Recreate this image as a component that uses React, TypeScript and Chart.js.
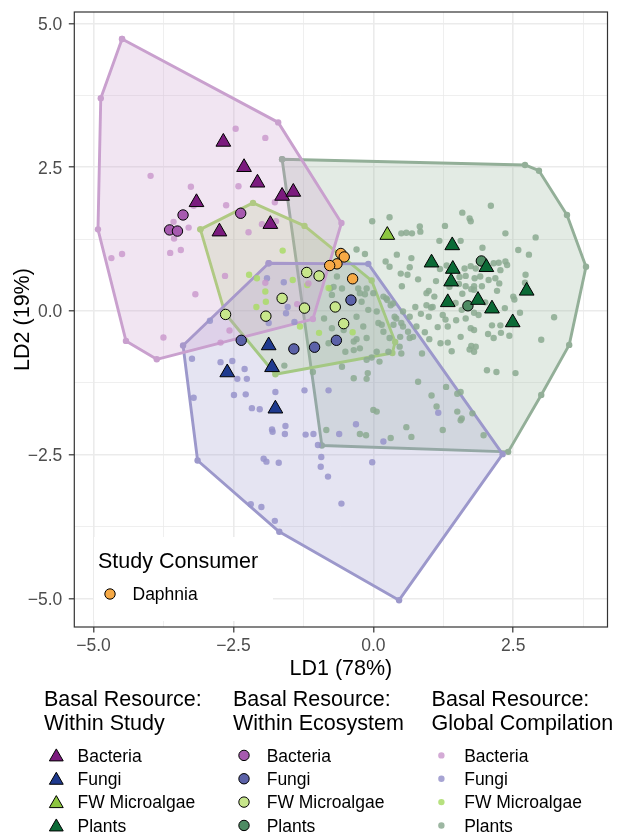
import React, { useEffect, useRef } from "react";
import { Chart, registerables } from "chart.js";

Chart.register(...registerables);

type Pt = [number, number];

// ---------- axes ----------
const xMajorTicks = [-5, -2.5, 0, 2.5];
const xMinorTicks = [-3.75, -1.25, 1.25, 3.75];
const yMajorTicks = [-5, -2.5, 0, 2.5, 5];
const yMinorTicks = [-3.75, -1.25, 1.25, 3.75];
const xLimits = [-5.343, 4.184];
const yLimits = [-5.496, 5.2];
const xTitle = "LD1 (78%)";
const yTitle = "LD2 (19%)";

// ---------- groups ----------
const groupNames = ["Bacteria", "Fungi", "FW Microalgae", "Plants"];
const consumerName = "Daphnia";

// ---------- hulls (global compilation) ----------
const hullBacteria: Pt[] = [[-4.49, 4.73], [-4.87, 3.70], [-4.92, 1.42], [-4.42, -0.52], [-3.87, -0.84], [-1.08, -0.14], [-0.57, 1.53], [-1.70, 3.28], [-4.49, 4.73]];
const hullFungi: Pt[] = [[-1.87, 0.83], [-3.40, -0.60], [-3.14, -2.60], [-1.68, -3.84], [0.46, -5.03], [2.31, -2.49], [-0.09, 0.82], [-1.87, 0.83]];
const hullFW: Pt[] = [[-3.09, 1.42], [-2.15, 1.88], [-1.23, 1.48], [-0.03, 0.53], [0.39, -0.54], [0.34, -0.73], [-1.75, -1.10], [-2.65, -0.04], [-3.09, 1.42]];
const hullPlants: Pt[] = [[-1.63, 2.64], [2.71, 2.54], [2.96, 2.44], [3.46, 1.67], [3.80, 0.77], [3.50, -0.59], [3.00, -1.46], [2.41, -2.45], [-0.92, -2.34], [-1.63, 2.64]];

// ---------- global compilation points ----------
const globalBacteria: Pt[] = [[-2.46, 3.17], [-1.93, 3.01], [-3.98, 2.35], [-3.26, 2.16], [-2.41, 2.17], [-2.63, 1.84], [-1.76, 1.89], [-3.21, 1.83], [-3.57, 1.55], [-3.30, 1.45], [-3.56, 1.26], [-3.63, 1.01], [-3.44, 1.06], [-4.49, 0.99], [-4.68, 0.92], [-1.99, 1.51], [-1.74, 1.56], [-2.23, 1.37], [-2.65, 0.61], [-3.18, 0.29], [-3.75, -0.46], [-2.57, -0.34], [-2.73, -0.55], [-1.93, 0.49], [-1.16, 0.48], [-1.36, 0.12]];
const globalFungi: Pt[] = [[-2.92, -0.17], [-3.24, -0.83], [-2.73, -0.89], [-2.52, -0.87], [-2.30, -1.01], [-2.43, -1.18], [-2.26, -1.18], [-3.21, -1.51], [-2.49, -1.46], [-2.28, -1.45], [-2.17, -1.69], [-2.03, -1.71], [-1.75, -1.41], [-1.81, -2.06], [-1.80, -2.10], [-1.57, -2.00], [-1.58, -2.14], [-1.23, -1.38], [-1.21, -2.15], [-1.07, -2.14], [-0.99, -2.33], [-0.93, -2.54], [-0.94, -2.71], [-0.81, -2.88], [-0.57, -3.35], [-1.96, -2.57], [-1.91, -2.62], [-1.69, -2.64], [-2.19, -3.36], [-2.00, -3.41], [-1.76, -3.65], [-0.80, -1.38], [-0.61, -2.14], [-0.31, -1.97], [0.18, -2.27], [-0.02, -2.63], [1.16, -1.77], [-1.60, 0.50], [-1.90, 0.57], [-1.87, -0.21], [-1.56, -0.04], [-1.41, -0.19], [-1.53, 0.07]];
const globalFW: Pt[] = [[-1.62, 1.05], [-2.22, 0.63], [-2.08, 0.57], [-1.93, 0.34], [-1.92, 0.16], [-2.09, 0.07], [-1.31, -0.27], [-1.44, 0.54], [-1.18, 0.45], [-0.80, 0.40], [-0.97, -0.38], [-0.37, -0.37]];
const globalPlants: Pt[] = [[2.10, 1.83], [1.59, 1.71], [1.72, 1.61], [1.74, 1.56], [0.29, 1.63], [-0.02, 1.56], [0.83, 1.47], [0.84, 1.38], [0.50, 1.35], [0.59, 1.36], [0.69, 1.35], [2.36, 1.35], [2.90, 1.28], [1.18, 1.22], [1.56, 1.22], [2.59, 1.06], [2.78, 0.98], [0.68, 0.92], [0.22, 0.86], [2.15, 0.83], [2.24, 0.84], [2.36, 0.86], [2.39, 0.80], [2.27, 0.71], [0.65, 0.76], [1.19, 0.73], [1.63, 0.74], [1.74, 0.78], [1.83, 0.74], [0.49, 0.65], [0.61, 0.63], [1.54, 0.59], [1.65, 0.61], [1.81, 0.57], [1.91, 0.60], [2.06, 0.54], [2.18, 0.57], [2.72, 0.63], [1.53, 0.47], [1.65, 0.43], [1.80, 0.43], [1.94, 0.43], [2.25, 0.48], [0.51, 0.43], [1.80, 0.37], [0.95, 0.31], [0.99, 0.35], [1.09, 0.25], [1.59, 0.30], [2.50, 0.25], [2.52, 0.20], [2.21, 0.35], [0.75, 0.07], [0.95, 0.10], [1.03, 0.06], [0.85, -0.05], [1.58, 0.02], [1.80, -0.03], [1.88, -0.07], [1.65, -0.13], [2.62, -0.03], [3.23, -0.11], [1.29, -0.15], [0.99, -0.10], [1.15, -0.28], [1.33, -0.27], [1.48, -0.16], [1.56, -0.45], [1.74, -0.30], [1.80, -0.33], [2.12, -0.25], [2.27, -0.25], [2.28, -0.38], [2.43, -0.43], [2.15, -0.47], [0.92, -0.37], [1.00, -0.49], [1.20, -0.56], [1.33, -0.55], [1.75, -0.61], [1.72, -0.67], [1.83, -0.62], [1.80, -0.71], [0.47, -0.62], [0.65, -0.47], [-0.30, 1.07], [-0.15, 0.99], [-0.77, 0.39], [-0.74, 0.28], [-0.27, 0.39], [-0.15, 0.29], [0.00, 0.31], [-0.21, 0.16], [-0.09, 0.02], [0.06, -0.01], [0.23, 0.22], [0.35, 0.13], [0.38, -0.10], [0.65, -0.10], [0.36, -0.24], [0.53, -0.27], [0.62, -0.36], [0.71, -0.45], [0.18, -0.36], [0.29, -0.47], [-0.12, -0.47], [-0.30, -0.49], [-0.53, -0.33], [-0.50, -0.71], [-0.35, -0.68], [-0.12, -0.85], [0.06, -0.71], [0.50, -0.74], [-0.56, -0.97], [-0.35, -1.17], [-0.12, -1.18], [0.00, -1.72], [0.06, -1.75], [0.80, -1.23], [1.04, -1.47], [1.30, -1.32], [1.56, -1.41], [1.50, -1.44], [1.13, -1.66], [0.59, -2.02], [0.68, -2.19], [1.24, -2.07], [1.97, -2.16], [3.00, -0.50], [2.03, -1.03], [2.20, -1.06], [2.54, -1.08], [-0.13, -2.16], [-0.24, -2.14], [0.87, -0.74], [1.58, -1.87], [0.31, -2.21], [0.41, -0.13], [0.53, -0.01], [0.18, 0.25], [0.25, 0.19], [0.31, 0.10], [0.15, -0.24], [0.11, -0.88], [-0.65, 0.60], [-0.24, 0.31], [-0.12, 0.39], [-0.30, -0.10], [-0.18, -0.27], [0.09, -0.21], [-0.35, -0.53], [-0.24, -0.65], [-1.08, -1.06], [-0.10, -1.08], [-0.71, 0.42], [-0.56, 0.39], [-0.74, -0.30], [-0.03, -0.81], [-0.84, -2.07], [-0.88, -0.13], [-1.59, -0.95], [-0.80, -0.56], [1.31, 0.79], [1.47, 0.14], [1.75, 0.38], [2.71, 0.49], [0.48, -0.45], [0.29, 0.77], [0.50, -0.21], [0.77, -0.27], [1.06, 0.07], [1.24, -0.07], [0.27, -0.71], [1.50, -1.75], [1.56, -1.90], [1.77, -1.78], [1.12, 0.52], [1.36, 0.42], [2.00, 0.15], [1.95, 1.10], [0.80, 0.55], [1.40, -0.70], [2.35, 0.05], [0.42, 0.98], [1.28, 1.48], [2.05, -0.40]];

// ---------- within ecosystem (circles) ----------
const ecoBacteria: Pt[] = [[-3.40, 1.67], [-3.64, 1.41], [-3.50, 1.39], [-2.37, 1.70]];
const ecoFungi: Pt[] = [[-2.36, -0.51], [-1.42, -0.66], [-1.05, -0.63], [-0.66, -0.51], [-0.40, 0.19]];
const ecoFW: Pt[] = [[-1.19, 0.67], [-0.97, 0.61], [-1.63, 0.22], [-1.23, 0.05], [-0.68, 0.07], [-0.53, -0.22], [-1.92, -0.09], [-2.64, -0.06]];
const ecoPlants: Pt[] = [[1.93, 0.87], [1.69, 0.09]];

// ---------- within study (triangles) ----------
const studyBacteria: Pt[] = [[-2.68, 2.94], [-2.31, 2.50], [-2.07, 2.23], [-3.16, 1.89], [-1.63, 2.00], [-1.43, 2.07], [-1.84, 1.51], [-2.75, 1.38]];
const studyFungi: Pt[] = [[-2.61, -1.07], [-1.87, -0.60], [-1.81, -0.98], [-1.75, -1.70]];
const studyFW: Pt[] = [[0.25, 1.32]];
const studyPlants: Pt[] = [[1.41, 1.14], [1.04, 0.84], [1.42, 0.73], [1.39, 0.51], [2.02, 0.76], [2.74, 0.35], [1.33, 0.15], [1.87, 0.19], [2.12, 0.04], [2.49, -0.20]];

// ---------- study consumer ----------
const daphnia: Pt[] = [[-0.58, 1.00], [-0.52, 0.94], [-0.65, 0.82], [-0.78, 0.79], [-0.37, 0.56]];

// ---------- colours ----------
const hullLineColors = ["rgb(201,160,206)", "rgb(156,152,203)", "rgb(168,218,106)", "rgb(147,175,152)"];
const hullFillColors = ["rgba(200,155,205,0.26)", "rgba(156,150,203,0.26)", "rgba(170,218,110,0.22)", "rgba(147,178,152,0.26)"];
const globalColors = ["rgba(201,150,204,0.8)", "rgba(152,148,203,0.85)", "rgba(170,220,105,0.85)", "rgba(140,170,146,0.85)"];
const ecoColors = ["#A65AAF", "#5C62A8", "#C7E68B", "#4E8B63"];
const studyColors = ["#7B1B7E", "#1F3A8E", "#8DC640", "#0B6A36"];
const daphniaColor = "#F6A945";

const FONT = '"Liberation Sans", Arial, Helvetica, sans-serif';

const toXY = (a: Pt[]) => a.map(([x, y]) => ({ x, y }));

function drawTri(ctx: CanvasRenderingContext2D, x: number, y: number, r: number, fill: string) {
  ctx.beginPath();
  for (let i = 0; i < 3; i++) {
    const a = (i * 2 * Math.PI) / 3;
    const px = x + Math.sin(a) * r;
    const py = y - Math.cos(a) * r;
    if (i === 0) ctx.moveTo(px, py);
    else ctx.lineTo(px, py);
  }
  ctx.closePath();
  ctx.fillStyle = fill;
  ctx.fill();
  ctx.lineWidth = 1;
  ctx.strokeStyle = "#000";
  ctx.stroke();
}

function drawCirc(ctx: CanvasRenderingContext2D, x: number, y: number, r: number, fill: string, stroke: boolean) {
  ctx.beginPath();
  ctx.arc(x, y, r, 0, Math.PI * 2);
  ctx.fillStyle = fill;
  ctx.fill();
  if (stroke) {
    ctx.lineWidth = 1;
    ctx.strokeStyle = "#000";
    ctx.stroke();
  }
}

const fmtTick = (v: number) => (v < 0 ? "\u2212" : "") + Math.abs(v).toFixed(1);

const decorPlugin = {
  id: "decor",
  afterDatasetsDraw(chart: any) {
    const ctx: CanvasRenderingContext2D = chart.ctx;
    const a = chart.chartArea;
    ctx.save();
    // inner legend (Study Consumer)
    ctx.fillStyle = "#ffffff";
    ctx.fillRect(94, 537, 179, 84);
    ctx.fillStyle = "#000";
    ctx.font = `21.5px ${FONT}`;
    ctx.textAlign = "left";
    ctx.textBaseline = "alphabetic";
    ctx.fillText("Study Consumer", 98, 567.5);
    drawCirc(ctx, 110, 594, 5.2, daphniaColor, true);
    ctx.fillStyle = "#000";
    ctx.font = `17.5px ${FONT}`;
    ctx.fillText(consumerName, 132.5, 600.3);
    // panel border
    ctx.strokeStyle = "#333333";
    ctx.lineWidth = 1.2;
    ctx.strokeRect(a.left, a.top, a.right - a.left, a.bottom - a.top);
    ctx.restore();
  },
  afterDraw(chart: any) {
    const ctx: CanvasRenderingContext2D = chart.ctx;
    const a = chart.chartArea;
    const xs = chart.scales.x;
    const ys = chart.scales.y;
    ctx.save();
    // tick labels
    ctx.fillStyle = "#4D4D4D";
    ctx.font = `17.5px ${FONT}`;
    ctx.textBaseline = "alphabetic";
    ctx.textAlign = "center";
    xMajorTicks.forEach((v) => ctx.fillText(fmtTick(v), xs.getPixelForValue(v), a.bottom + 23.5));
    ctx.textAlign = "right";
    yMajorTicks.forEach((v) => ctx.fillText(fmtTick(v), a.left - 12, ys.getPixelForValue(v) + 6.3));
    // axis titles
    ctx.fillStyle = "#000";
    ctx.font = `21.5px ${FONT}`;
    ctx.textAlign = "center";
    ctx.fillText(xTitle, (a.left + a.right) / 2, a.bottom + 48);
    ctx.save();
    ctx.translate(29, (a.top + a.bottom) / 2);
    ctx.rotate(-Math.PI / 2);
    ctx.fillText(yTitle, 0, 0);
    ctx.restore();
    // bottom legends
    const cols = [
      { x: 44, keyX: 56.3, labelX: 77.5, titles: ["Basal Resource:", "Within Study"], kind: "tri", colors: studyColors },
      { x: 233, keyX: 244, labelX: 266.7, titles: ["Basal Resource:", "Within Ecosystem"], kind: "circ", colors: ecoColors },
      { x: 431.6, keyX: 441.4, labelX: 464.2, titles: ["Basal Resource:", "Global Compilation"], kind: "dot", colors: globalColors },
    ];
    cols.forEach((c) => {
      ctx.fillStyle = "#000";
      ctx.font = `21.5px ${FONT}`;
      ctx.textAlign = "left";
      ctx.fillText(c.titles[0], c.x, 706.3);
      ctx.fillText(c.titles[1], c.x, 729.5);
      groupNames.forEach((g, i) => {
        const base = 761.7 + i * 23.35;
        const cy = base - 6.3;
        if (c.kind === "tri") drawTri(ctx, c.keyX, cy + 1.5, 8, c.colors[i]);
        else if (c.kind === "circ") drawCirc(ctx, c.keyX, cy, 5.2, c.colors[i], true);
        else drawCirc(ctx, c.keyX, cy, 3.2, c.colors[i], false);
        ctx.fillStyle = "#000";
        ctx.font = `17.5px ${FONT}`;
        ctx.fillText(g, c.labelX, base);
      });
    });
    ctx.restore();
  },
};

export default function App() {
  const ref = useRef<HTMLCanvasElement>(null);
  useEffect(() => {
    const canvas = ref.current;
    if (!canvas) return;

    const hulls = [hullBacteria, hullFungi, hullFW, hullPlants];
    const globals = [globalBacteria, globalFungi, globalFW, globalPlants];
    const ecos = [ecoBacteria, ecoFungi, ecoFW, ecoPlants];
    const studies = [studyBacteria, studyFungi, studyFW, studyPlants];

    const datasets: any[] = [];
    datasets.push({
      label: consumerName,
      data: toXY(daphnia),
      pointRadius: 5.2,
      pointBackgroundColor: daphniaColor,
      pointBorderColor: "#000",
      pointBorderWidth: 1,
      showLine: false,
      order: 1,
    });
    studies.forEach((d, i) =>
      datasets.push({
        label: "study " + groupNames[i],
        data: toXY(d),
        pointStyle: "triangle",
        pointRadius: 8.5,
        pointBackgroundColor: studyColors[i],
        pointBorderColor: "#000",
        pointBorderWidth: 1,
        showLine: false,
        order: 2,
      })
    );
    ecos.forEach((d, i) =>
      datasets.push({
        label: "eco " + groupNames[i],
        data: toXY(d),
        pointRadius: 5.2,
        pointBackgroundColor: ecoColors[i],
        pointBorderColor: "#000",
        pointBorderWidth: 1,
        showLine: false,
        order: 3,
      })
    );
    globals.forEach((d, i) =>
      datasets.push({
        label: "global " + groupNames[i],
        data: toXY(d),
        pointRadius: 3.2,
        pointBackgroundColor: globalColors[i],
        pointBorderWidth: 0,
        showLine: false,
        order: 4,
      })
    );
    hulls.forEach((d, i) =>
      datasets.push({
        type: "line",
        label: "hull " + groupNames[i],
        data: toXY(d),
        borderColor: hullLineColors[i],
        backgroundColor: hullFillColors[i],
        borderWidth: 2.9,
        borderJoinStyle: "round",
        fill: "shape",
        tension: 0,
        pointRadius: 3.2,
        pointBackgroundColor: hullLineColors[i],
        pointBorderWidth: 0,
        order: 5,
      })
    );

    const isMinorX = (v: number) => xMinorTicks.includes(v);
    const isMinorY = (v: number) => yMinorTicks.includes(v);

    const chart = new Chart(canvas, {
      type: "scatter",
      data: { datasets },
      plugins: [decorPlugin],
      options: {
        animation: false,
        responsive: false,
        maintainAspectRatio: false,
        events: [],
        layout: { padding: { left: 0, top: 12, right: 3.5, bottom: 177 } },
        plugins: { legend: { display: false }, tooltip: { enabled: false } },
        scales: {
          x: {
            type: "linear",
            position: "bottom",
            min: xLimits[0],
            max: xLimits[1],
            afterBuildTicks: (s: any) => {
              s.ticks = [...xMajorTicks, ...xMinorTicks].sort((p, q) => p - q).map((v) => ({ value: v }));
            },
            afterFit: (s: any) => {
              s.height = 30;
            },
            ticks: { display: false, autoSkip: false },
            grid: {
              color: "#EBEBEB",
              lineWidth: (c: any) => (c.tick && isMinorX(c.tick.value) ? 0.8 : 1.6),
              tickLength: 5.5,
              tickWidth: 1.2,
              tickColor: (c: any) => (c.tick && isMinorX(c.tick.value) ? "rgba(0,0,0,0)" : "#333333"),
            },
            border: { display: false },
          },
          y: {
            type: "linear",
            position: "left",
            min: yLimits[0],
            max: yLimits[1],
            afterBuildTicks: (s: any) => {
              s.ticks = [...yMajorTicks, ...yMinorTicks].sort((p, q) => p - q).map((v) => ({ value: v }));
            },
            afterFit: (s: any) => {
              s.width = 74.3;
            },
            ticks: { display: false, autoSkip: false },
            grid: {
              color: "#EBEBEB",
              lineWidth: (c: any) => (c.tick && isMinorY(c.tick.value) ? 0.8 : 1.6),
              tickLength: 5.5,
              tickWidth: 1.2,
              tickColor: (c: any) => (c.tick && isMinorY(c.tick.value) ? "rgba(0,0,0,0)" : "#333333"),
            },
            border: { display: false },
          },
        },
      } as any,
    });
    return () => chart.destroy();
  }, []);

  return (
    <div style={{ position: "absolute", left: 0, top: 0, width: 617, height: 834, background: "#ffffff" }}>
      <canvas ref={ref} width={617} height={834} style={{ display: "block", width: 617, height: 834 }} />
    </div>
  );
}
